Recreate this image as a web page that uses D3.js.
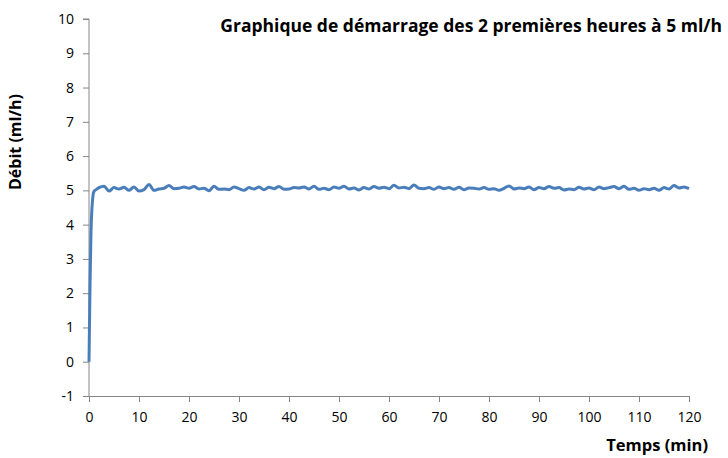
<!DOCTYPE html>
<html>
<head>
<meta charset="utf-8">
<script src="https://cdn.jsdelivr.net/npm/d3@7"></script>
<style>
  html, body { margin: 0; padding: 0; background: #fff; }
  svg { display: block; font-family: "Open Sans", "Noto Sans", sans-serif; }
</style>
</head>
<body>
<svg id="chart" width="728" height="458"></svg>
<script>
// Flow rate (ml/h) recorded over the first two hours of a 5 ml/h start-up
const times = [0, 0.2, 0.4, 0.6, 0.8, 1, 1.5, 2,
  3, 4, 5, 6, 7, 8, 9, 10, 11, 12, 13, 14, 15, 16, 17, 18, 19, 20,
  21, 22, 23, 24, 25, 26, 27, 28, 29, 30, 31, 32, 33, 34, 35, 36, 37, 38, 39, 40,
  41, 42, 43, 44, 45, 46, 47, 48, 49, 50, 51, 52, 53, 54, 55, 56, 57, 58, 59, 60,
  61, 62, 63, 64, 65, 66, 67, 68, 69, 70, 71, 72, 73, 74, 75, 76, 77, 78, 79, 80,
  81, 82, 83, 84, 85, 86, 87, 88, 89, 90, 91, 92, 93, 94, 95, 96, 97, 98, 99, 100,
  101, 102, 103, 104, 105, 106, 107, 108, 109, 110, 111, 112, 113, 114, 115, 116, 117, 118, 119, 120];

const flow = [0, 2.2, 3.8, 4.5, 4.85, 4.97, 5.03, 5.08,
  5.12, 4.98, 5.08, 5.04, 5.09, 5.00, 5.10, 4.98, 5.02, 5.17, 5.00, 5.04, 5.06, 5.14, 5.05, 5.06, 5.10, 5.06,
  5.11, 5.04, 5.06, 4.99, 5.12, 5.03, 5.04, 5.02, 5.10, 5.05, 5.00, 5.08, 5.04, 5.10, 5.02, 5.09, 5.05, 5.11, 5.03, 5.04,
  5.08, 5.07, 5.10, 5.04, 5.12, 5.03, 5.06, 5.02, 5.10, 5.06, 5.12, 5.04, 5.07, 5.01, 5.08, 5.04, 5.11, 5.06, 5.09, 5.05,
  5.15, 5.07, 5.09, 5.05, 5.16, 5.06, 5.05, 5.08, 5.03, 5.10, 5.05, 5.08, 5.03, 5.09, 5.02, 5.07, 5.06, 5.04, 5.08, 5.03,
  5.05, 5.00, 5.06, 5.13, 5.04, 5.07, 5.05, 5.10, 5.02, 5.08, 5.05, 5.11, 5.06, 5.08, 5.01, 5.04, 5.02, 5.09, 5.04, 5.07,
  5.02, 5.10, 5.05, 5.08, 5.11, 5.05, 5.12, 5.03, 5.06, 5.00, 5.05, 5.02, 5.06, 5.00, 5.08, 5.04, 5.14, 5.07, 5.10, 5.05];

const xTicks = [0, 10, 20, 30, 40, 50, 60, 70, 80, 90, 100, 110, 120];
const yTicks = [-1, 0, 1, 2, 3, 4, 5, 6, 7, 8, 9, 10];

const titleText = "Graphique de démarrage des 2 premières heures à 5 ml/h";
const xTitle = "Temps (min)";
const yTitle = "Débit (ml/h)";

const svg = d3.select("#chart");
const axisColor = "#868686";
const lineColor = "#4a7ebb";

const x = d3.scaleLinear().domain([0, 120]).range([89, 689]);
const y = d3.scaleLinear().domain([-1, 10]).range([396, 19]);

// Plain hyphen for negatives
const fmt = d => String(d);

// Y axis
const yAxis = svg.append("g")
  .attr("transform", `translate(${x(0)},0)`)
  .call(d3.axisLeft(y).tickValues(yTicks).tickSize(6).tickPadding(9).tickFormat(fmt));

// X axis along the bottom of the plot area
const xAxis = svg.append("g")
  .attr("transform", `translate(0,${y(-1)})`)
  .call(d3.axisBottom(x).tickValues(xTicks).tickSizeInner(6).tickSizeOuter(0).tickPadding(10).tickFormat(fmt));

[yAxis, xAxis].forEach(g => {
  g.select(".domain").attr("stroke", axisColor).attr("stroke-width", 1);
  g.selectAll(".tick line").attr("stroke", axisColor);
  g.selectAll(".tick text")
    .attr("fill", "#000")
    .style("font-size", "14px")
    .style("font-family", "\"Open Sans\", \"Noto Sans\", sans-serif");
});
yAxis.select(".domain").attr("d", `M-6,${y(10)}H0V${y(-1)}`);

// Flow curve
const pts = times.map((t, i) => [t, flow[i]]);
svg.append("path")
  .datum(pts)
  .attr("fill", "none")
  .attr("stroke", lineColor)
  .attr("stroke-width", 3)
  .attr("stroke-linejoin", "round")
  .attr("d", d3.line().x(d => x(d[0])).y(d => y(d[1])).curve(d3.curveMonotoneX));

// Title, right-aligned near the top
const title = svg.append("text")
  .attr("x", 722).attr("y", 32)
  .attr("text-anchor", "end")
  .style("font-weight", "bold")
  .style("font-size", "16px")
  .text(titleText);
const tw = title.node().getComputedTextLength();
title.style("font-size", (16 * 502 / tw).toFixed(2) + "px");

// Axis titles
svg.append("text")
  .attr("x", 708).attr("y", 451)
  .attr("text-anchor", "end")
  .style("font-weight", "bold")
  .style("font-size", "16.5px")
  .text(xTitle);

svg.append("text")
  .attr("transform", "translate(21,142) rotate(-90)")
  .attr("text-anchor", "middle")
  .style("font-weight", "bold")
  .style("font-size", "16px")
  .text(yTitle);
</script>
</body>
</html>
